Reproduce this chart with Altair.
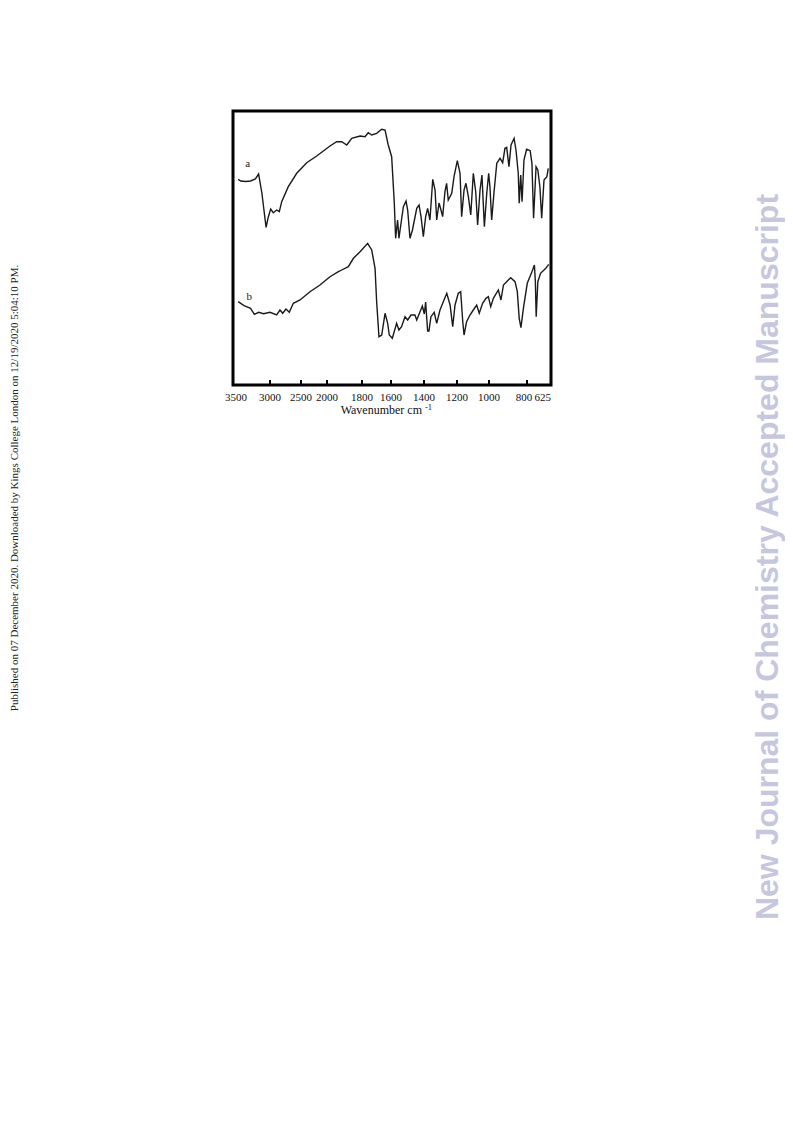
import altair as alt
import pandas as pd

# ---- spectrum a (wavenumber cm-1, transmittance in arbitrary units) ----
wn_a = [3430, 3395, 3329, 3263, 3197, 3154, 3110, 3053, 3022, 2989,
        2947, 2892, 2850, 2811, 2705, 2569, 2390, 2198, 1983, 1945,
        1916, 1887, 1859, 1811, 1779, 1757, 1733, 1699, 1664, 1641,
        1619, 1596, 1580, 1572, 1560, 1552, 1539, 1525, 1509, 1499,
        1485, 1470, 1444, 1430, 1418, 1404, 1390, 1378, 1364, 1347,
        1333, 1323, 1309, 1297, 1287, 1273, 1263, 1253, 1232, 1218,
        1198, 1181, 1171, 1156, 1144, 1129, 1114, 1098, 1083, 1071,
        1056, 1044, 1029, 1014, 1002, 995, 986, 974, 959, 942,
        928, 916, 907, 895, 884, 868, 858, 846, 841, 833,
        826, 816, 802, 777, 764, 752, 734, 721, 706, 693,
        676, 655, 645]
t_a = [206.7, 205, 204.5, 205, 207, 212, 193, 158.7, 169.3, 177,
       173.3, 176, 174.3, 184.3, 199.3, 212.7, 223.3, 230, 240, 244.3,
       244.3, 241, 247.7, 250, 249.3, 253.3, 251, 252.7, 256.7, 256,
       241, 229.3, 183, 147.7, 166, 147.7, 163, 179.3, 185, 176,
       147.7, 156, 177.7, 181, 169.3, 149.3, 169.3, 177.7, 166, 206.7,
       196, 166, 183, 176, 169.3, 194.3, 202.7, 186, 192.7, 209.3,
       225.3, 212.7, 169.3, 196, 202.7, 189.3, 171, 212.7, 194.3, 161,
       196, 211, 159.3, 192.7, 212.7, 199.3, 166, 192.7, 222.7, 227.7,
       223.3, 237.7, 238.7, 219.3, 241, 247.7, 236, 212.7, 182.7, 211,
       184.3, 226, 236.7, 235.3, 222.7, 167.7, 219.3, 216, 199.3, 167.7,
       206, 209.3, 217.7]

# ---- spectrum b ----
wn_b = [3430, 3351, 3263, 3211, 3154, 3088, 3000, 2892, 2839, 2795,
        2742, 2689, 2624, 2516, 2327, 2135, 1983, 1935, 1916, 1878,
        1849, 1811, 1761, 1733, 1710, 1699, 1683, 1664, 1641, 1623,
        1612, 1592, 1566, 1552, 1536, 1515, 1499, 1479, 1455, 1444,
        1424, 1410, 1398, 1390, 1378, 1370, 1358, 1338, 1323, 1303,
        1283, 1262, 1242, 1226, 1212, 1192, 1177, 1164, 1156, 1140,
        1119, 1098, 1077, 1061, 1040, 1019, 1004, 991, 977, 951,
        937, 924, 907, 886, 863, 851, 841, 832, 819, 798,
        764, 746, 739, 733, 721, 701, 663, 642]
t_b = [84.3, 80.3, 77.7, 71.7, 73.7, 72.3, 73.7, 71, 76, 72.7,
       77, 73.7, 82.7, 86, 94.3, 101, 109.3, 114.3, 116, 119.3,
       127.7, 134.3, 142.7, 136, 117.7, 84.3, 49.3, 51, 72.7, 62.7,
       51, 47.7, 62.7, 56, 59.3, 69.3, 66, 71, 71, 66,
       74.3, 80, 72, 84, 55, 55, 69.3, 73.7, 62.7, 76,
       84.3, 92.7, 81, 59.3, 81, 92.7, 94.3, 64.3, 51, 64.3,
       71, 76, 81, 72.7, 82.7, 87.7, 89.3, 79.3, 87.7, 96,
       86, 101, 104.3, 108.3, 104.3, 94.3, 67.7, 58.3, 77.7, 102.7,
       114.3, 121, 104.3, 69.3, 104.3, 112.7, 117.7, 121.7]

# tick labels: first (left edge), middle ones, last (right edge)
tick_first = [3500]
tick_mid = [3000, 2500, 2000, 1800, 1600, 1400, 1200, 1000]
tick_800 = [800]
tick_last = [625]
tick_marks = [3000, 2500, 2000, 1800, 1600, 1400, 1200, 1000, 800]

# non-uniform axis of the scanned spectrum (piecewise scale)
scale_domain = [625, 800, 1000, 1200, 1400, 1600, 1800, 2000, 2500, 3000, 3500]
scale_range = [318, 294, 256, 224, 191, 158, 129, 94, 68, 37, 0]

series_names = ["a", "b"]
label_wn = [3300, 3280]
label_t = [222, 89]

df = pd.concat([
    pd.DataFrame({"wn": wn_a, "T": t_a, "s": "a", "i": range(len(wn_a))}),
    pd.DataFrame({"wn": wn_b, "T": t_b, "s": "b", "i": range(len(wn_b))}),
])

W, H = 318, 274
xs = alt.Scale(domain=scale_domain, range=scale_range, nice=False, zero=False)
ys = alt.Scale(domain=[1, 275], nice=False, zero=False)

lines = alt.Chart(df).mark_line(color="#1a1a1a", strokeWidth=1.4).encode(
    x=alt.X("wn:Q", scale=xs, axis=None),
    y=alt.Y("T:Q", scale=ys, axis=None),
    detail="s:N",
    order="i:Q",
)

ticks = alt.Chart(pd.DataFrame({"wn": tick_marks})).mark_rule(
    color="black", strokeWidth=2
).encode(
    x=alt.X("wn:Q", scale=xs, axis=None),
    y=alt.value(H),
    y2=alt.value(H - 5),
)


def tick_text(vals, align, dx):
    return alt.Chart(pd.DataFrame({"wn": vals})).mark_text(
        font="Liberation Serif", fontSize=11, color="#111",
        align=align, baseline="alphabetic", dx=dx,
    ).encode(
        x=alt.X("wn:Q", scale=xs, axis=None),
        y=alt.value(289.5),
        text=alt.Text("wn:Q", format="d"),
    )


tl_first = tick_text(tick_first, "center", 3)
tl_mid = tick_text(tick_mid, "center", 0)
tl_800 = tick_text(tick_800, "center", -3)
tl_last = tick_text(tick_last, "right", 0)

labels = alt.Chart(pd.DataFrame({"wn": label_wn, "T": label_t, "s": series_names})).mark_text(
    font="Liberation Serif", fontSize=11, color="#222"
).encode(
    x=alt.X("wn:Q", scale=xs, axis=None),
    y=alt.Y("T:Q", scale=ys, axis=None),
    text="s:N",
)

title_main = alt.Chart(pd.DataFrame({"t": ["Wavenumber cm"]})).mark_text(
    font="Liberation Serif", fontSize=12, color="#111", align="right", baseline="alphabetic"
).encode(x=alt.value(189), y=alt.value(303), text="t:N")

title_sup = alt.Chart(pd.DataFrame({"t": ["-1"]})).mark_text(
    font="Liberation Serif", fontSize=8.5, color="#111", align="left", baseline="alphabetic"
).encode(x=alt.value(192), y=alt.value(299), text="t:N")

left_note = alt.Chart(pd.DataFrame({"t": [
    "Published on 07 December 2020. Downloaded by Kings College London on 12/19/2020 5:04:10 PM."
]})).mark_text(
    font="Liberation Serif", fontSize=11, color="#222", angle=270,
    align="center", baseline="middle"
).encode(x=alt.value(-218), y=alt.value(377), text="t:N")

right_note = alt.Chart(pd.DataFrame({"t": ["New Journal of Chemistry Accepted Manuscript"]})).mark_text(
    font="Liberation Sans", fontSize=32, fontWeight="bold", color="#c6c7de", angle=270,
    align="center", baseline="middle"
).encode(x=alt.value(535), y=alt.value(446), text="t:N")

chart = alt.layer(
    lines, ticks, tl_first, tl_mid, tl_800, tl_last, labels,
    title_main, title_sup, left_note, right_note
).properties(
    width=W, height=H,
    autosize=alt.AutoSizeParams(type="none"),
    padding={"left": 225, "top": 103, "right": 234, "bottom": 650},
    background="white",
).configure_view(stroke="black", strokeWidth=3)

chart.save("out.html", embed_options={"renderer": "svg", "actions": False})
